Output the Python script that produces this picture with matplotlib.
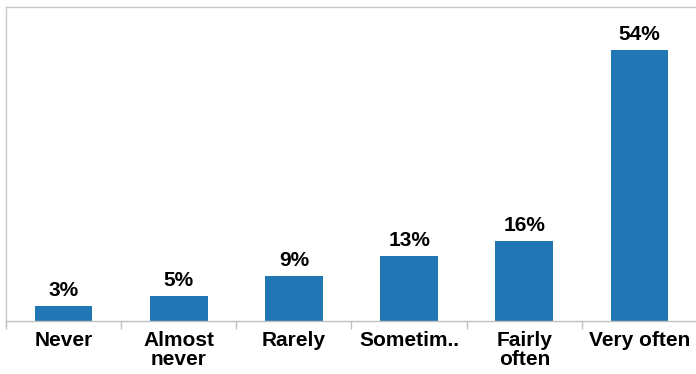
import matplotlib
matplotlib.use("Agg")
import matplotlib.pyplot as plt
import numpy as np

categories = ["Never", "Almost\nnever", "Rarely", "Sometim..", "Fairly\noften", "Very often"]
values = [3, 5, 9, 13, 16, 54]
value_labels = ["3%", "5%", "9%", "13%", "16%", "54%"]

plt.rcParams["font.family"] = ["Liberation Sans", "DejaVu Sans"]

fig = plt.figure(figsize=(6.96, 3.74), dpi=100)
W, H = 696, 374
left, right, top, bottom = 6, 697, 7, 321
ax = fig.add_axes([left / W, 1 - bottom / H, (right - left) / W, (bottom - top) / H])

x = np.arange(len(categories))
ax.bar(x, values, width=0.5, color="#2077b4", zorder=2)
ax.set_xlim(-0.5, len(categories) - 0.5)
ax.set_ylim(0, 62.5)

for xi, v, lab in zip(x, values, value_labels):
    ax.annotate(lab, (xi, v), xytext=(0, 4), textcoords="offset points",
                ha="center", va="bottom", fontsize=15, fontweight="bold", color="#000000")

ax.set_xticks(x)
ax.set_xticklabels(categories, fontsize=15, fontweight="bold", color="#000000",
                   linespacing=1.0)
ax.tick_params(axis="x", which="major", length=0, pad=7)
ax.set_xticks(np.arange(len(categories) + 1) - 0.5, minor=True)
ax.tick_params(axis="x", which="minor", length=6, color="#bfbfbf", width=1)
ax.set_yticks([])

for side in ["left", "top", "bottom"]:
    ax.spines[side].set_color("#c8c8c8")
    ax.spines[side].set_linewidth(1)
ax.spines["bottom"].set_color("#bfbfbf")
ax.spines["right"].set_visible(False)

fig.savefig("out.png", dpi=100)
